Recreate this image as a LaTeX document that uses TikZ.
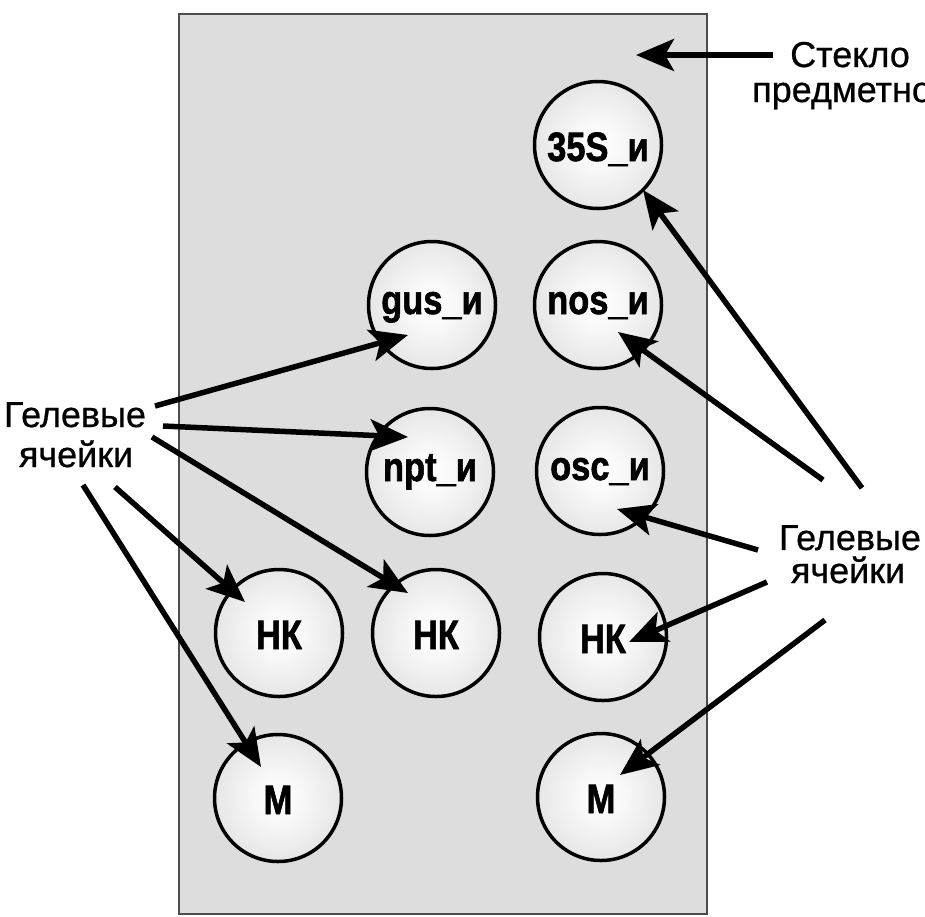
\documentclass[tikz,border=0pt]{standalone}
\usepackage{fontspec}
\setmainfont{Liberation Sans}
\newfontfamily\ballfont{Liberation Sans}[FakeBold=1.6]
\newfontfamily\lblfont{Liberation Sans}[FakeBold=0.7]
\usetikzlibrary{arrows.meta,calc}
\pgfdeclareradialshading{ballshade}{\pgfpoint{0bp}{0bp}}{color(0bp)=(white); color(10bp)=(white!97!black); color(30bp)=(white!88!black); color(50bp)=(white!76!black); color(72bp)=(white!76!black)}
\definecolor{slide}{RGB}{221,221,221}
\begin{document}
\begin{tikzpicture}[x=1pt,y=-1pt,
  ball/.style={circle, draw=black, line width=3.5pt, minimum size=127pt, inner sep=0pt, shading=ballshade,
    font=\ballfont\bfseries\fontsize{41}{41}\selectfont, text depth=0pt},
  capt/.style={ball, text height=32pt},
  lowt/.style={ball, text height=18pt},
  lbl/.style={font=\lblfont\fontsize{36}{36}\selectfont, inner sep=0pt, anchor=base},
  arr/.style={line width=5.5pt, -{Stealth[length=38pt,width=32pt,inset=9pt]}}]
\useasboundingbox (0,0) rectangle (925,916);
\clip (0,0) rectangle (925,916);
% slide
\draw[fill=slide, draw=black!70, line width=1.3pt] (179,14) rectangle (707,914);
% cells
\node[capt] (s35) at (598,145) {\scalebox{0.84}[1]{35S\_и}};
\node[lowt] (gus) at (432,305) {\scalebox{0.84}[1]{gus\_и}};
\node[lowt] (nos) at (598,305) {\scalebox{0.84}[1]{nos\_и}};
\node[lowt] (npt) at (430,472) {\scalebox{0.84}[1]{npt\_и}};
\node[lowt] (osc) at (600,471) {\scalebox{0.84}[1]{osc\_и}};
\node[capt] (hk1) at (279,633) {\scalebox{0.84}[1]{НК}};
\node[capt] (hk2) at (436,633) {\scalebox{0.84}[1]{НК}};
\node[capt] (hk3) at (603,637) {\scalebox{0.84}[1]{НК}};
\node[capt] (m1) at (278,798) {\scalebox{0.84}[1]{М}};
\node[capt] (m2) at (601,797) {\scalebox{0.84}[1]{М}};
% labels
\node[lbl, anchor=base west] (st1) at (790,67) {Стекло};
\node[lbl, anchor=base west] (st2) at (752,102) {предметно};
\node[lbl] (gl1) at (75,427) {Гелевые};
\node[lbl] (gl2) at (76,467) {ячейки};
\node[lbl] (gr1) at (850,550) {Гелевые};
\node[lbl] (gr2) at (848,583) {ячейки};
% arrow ends
\coordinate (aglass) at (773,55);
\coordinate (tglass) at (636,55);
\coordinate (aL1) at (155,406);
\coordinate (aL2) at (163,426);
\coordinate (aL3) at (152,437);
\coordinate (aL4) at (115,487);
\coordinate (aL5) at (83,485);
\coordinate (aR1) at (862,488);
\coordinate (aR2) at (823,480);
\coordinate (aR3) at (758,550);
\coordinate (aR4) at (767,582);
\coordinate (aR5) at (825,620);
\coordinate (t35) at ($(s35)+(45,45)$);
\coordinate (tgus) at ($(gus)+(-24,30)$);
\coordinate (tnos) at ($(nos)+(20,27)$);
\coordinate (tnpt) at ($(npt)+(-22,-35)$);
\coordinate (tosc) at ($(osc)+(17,38)$);
\coordinate (thk1) at ($(hk1)+(-34,-31)$);
\coordinate (thk2) at ($(hk2)+(-28,-40)$);
\coordinate (thk3) at ($(hk3)+(26,5)$);
\coordinate (tm1) at ($(m1)+(-17,-31)$);
\coordinate (tm2) at ($(m2)+(19,-22)$);
% arrows
\draw[arr] (aglass) -- (tglass);
\draw[arr] (aL1) -- (tgus);
\draw[arr] (aL2) -- (tnpt);
\draw[arr] (aL3) -- (thk2);
\draw[arr] (aL4) -- (thk1);
\draw[arr] (aL5) -- (tm1);
\draw[arr] (aR1) -- (t35);
\draw[arr] (aR2) -- (tnos);
\draw[arr] (aR3) -- (tosc);
\draw[arr] (aR4) -- (thk3);
\draw[arr] (aR5) -- (tm2);
\end{tikzpicture}
\end{document}
